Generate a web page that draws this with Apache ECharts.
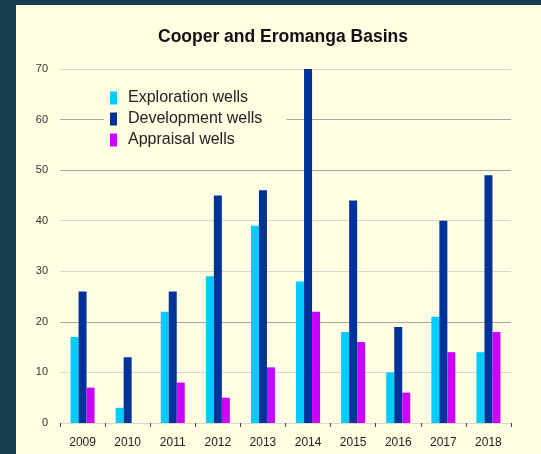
<!DOCTYPE html>
<html><head><meta charset="utf-8">
<script src="https://cdn.jsdelivr.net/npm/echarts@6/dist/echarts.min.js"></script>
<style>html,body{margin:0;padding:0;background:#133e50;}#c{width:541px;height:454px;}</style>
</head><body><div id="c"></div>
<script>
const categories = ['2009','2010','2011','2012','2013','2014','2015','2016','2017','2018'];
const exploration = [17, 3, 22, 29, 39, 28, 18, 10, 21, 14];
const development = [26, 13, 26, 45, 46, 70, 44, 19, 40, 49];
const appraisal = [7, 0, 8, 5, 11, 22, 16, 6, 14, 18];
const seriesNames = ['Exploration wells', 'Development wells', 'Appraisal wells'];
const colors = ['#00ccff', '#003399', '#cc00ff'];

const chart = echarts.init(document.getElementById('c'));
const font = 'Liberation Sans, Arial, sans-serif';
const L = '#d8d8cc', D = '#a8a8a0';
chart.setOption({
  backgroundColor: '#133e50',
  animation: false,
  graphic: [{type:'rect', shape:{x:16, y:5, width:530, height:460}, style:{fill:'#fffee2'}, z:-10}],
  title: {text:'Cooper and Eromanga Basins', left:153, top:23,
    textStyle:{fontFamily:font, fontSize:17.5, fontWeight:'bold', color:'#111'}},
  legend: {orient:'vertical', left:104, top:88, itemWidth:7, itemHeight:13, itemGap:5, icon:'rect',
    backgroundColor:'#fffee2', padding:[2,24,2,6],
    textStyle:{fontFamily:font, fontSize:16, color:'#222', padding:[0,0,0,6]}, data: seriesNames},
  grid: {left:60, right:30, top:69, bottom:31},
  xAxis: {type:'category', data:categories,
    axisLine:{show:false}, axisTick:{show:true, length:4, lineStyle:{color:'#444'}},
    axisLabel:{fontFamily:font, fontSize:12, color:'#222', margin:14}},
  yAxis: {type:'value', min:0, max:70, interval:10,
    axisLine:{show:false}, axisTick:{show:false},
    axisLabel:{fontFamily:font, fontSize:11, color:'#333', margin:12},
    splitLine:{lineStyle:{color:[L, L, D, L, L, D, D, L], width:1}}},
  series: [
    {name:seriesNames[0], type:'bar', data:exploration, itemStyle:{color:colors[0]}, barWidth:8, barGap:'0%', barCategoryGap:'47%'},
    {name:seriesNames[1], type:'bar', data:development, itemStyle:{color:colors[1]}, barWidth:8, barGap:'0%'},
    {name:seriesNames[2], type:'bar', data:appraisal, itemStyle:{color:colors[2]}, barWidth:8, barGap:'0%'}
  ]
});
</script></body></html>
